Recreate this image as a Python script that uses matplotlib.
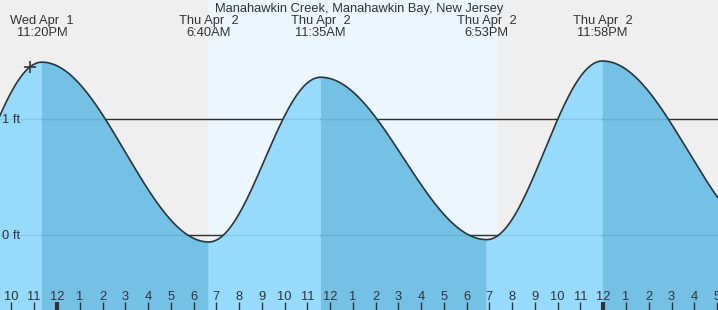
import numpy as np
import matplotlib
matplotlib.use("Agg")
import matplotlib.pyplot as plt
from matplotlib.transforms import blended_transform_factory, offset_copy

plt.rcParams['font.family'] = ['Liberation Sans', 'DejaVu Sans']

# ---------------- data ----------------
title = "Manahawkin Creek, Manahawkin Bay, New Jersey"
# tide extremes shown on the chart (hours relative to midnight Thu Apr 2)
event_days = ["Wed Apr  1", "Thu Apr  2", "Thu Apr  2", "Thu Apr  2", "Thu Apr  2"]
event_times = ["11:20PM", "6:40AM", "11:35AM", "6:53PM", "11:58PM"]
event_day_offset = [-1, 0, 0, 0, 0]
event_heights = [1.49, -0.06, 1.36, -0.04, 1.50]
# extremes just outside the visible window (estimated)
prev_low = ("6:20PM", -1, -0.05)
next_low = ("7:29AM", 1, -0.05)
# current-time marker
now_time = ("10:49PM", -1)
# daylight
sunrise = "6:38AM"
sunset = "7:20PM"
# hour ticks
tick_hours = list(range(-2, 30))
tick_labels = ["10", "11", "12", "1", "2", "3", "4", "5", "6", "7", "8", "9", "10", "11",
               "12", "1", "2", "3", "4", "5", "6", "7", "8", "9", "10", "11",
               "12", "1", "2", "3", "4", "5"]
midnight_hours = [0, 24]
level_lines = [0, 1]
level_labels = ["0 ft", "1 ft"]


def to_hours(t, day=0):
    hm, ap = t[:-2], t[-2:]
    h, m = map(int, hm.split(":"))
    h = h % 12 + (12 if ap == "PM" else 0)
    return day * 24 + h + m / 60.0


ext_t = [to_hours(prev_low[0], prev_low[1])] + \
        [to_hours(t, d) for t, d in zip(event_times, event_day_offset)] + \
        [to_hours(next_low[0], next_low[1])]
ext_h = [prev_low[2]] + event_heights + [next_low[2]]


def tide(t):
    t = np.asarray(t, float)
    out = np.zeros_like(t)
    for i in range(len(ext_t) - 1):
        t0, t1 = ext_t[i], ext_t[i + 1]
        h0, h1 = ext_h[i], ext_h[i + 1]
        m = (t >= t0) & (t <= t1)
        f = (1 - np.cos(np.pi * (t[m] - t0) / (t1 - t0))) / 2
        out[m] = h0 + (h1 - h0) * f
    return out


# ---------------- figure ----------------
W, H = 718, 310
fig = plt.figure(figsize=(W / 100, H / 100), dpi=100)
ax = fig.add_axes([0, 0, 1, 1])
px_per_h = 22.76
mid_px = 57
xmin = -mid_px / px_per_h
xmax = (W - mid_px) / px_per_h
px_per_ft = 116
zero_px = 235
ymax = zero_px / px_per_ft
ymin = -(H - zero_px) / px_per_ft
ax.set_xlim(xmin, xmax)
ax.set_ylim(ymin, ymax)
ax.set_facecolor("#efefef")
fig.patch.set_facecolor("#efefef")
for s in ax.spines.values():
    s.set_visible(False)
ax.set_axisbelow(False)

TXT = "#333333"
FS = 9.3

# daylight band
ax.axvspan(to_hours(sunrise), to_hours(sunset), color="#ebf6fe", zorder=0, lw=0)

# level lines (under the fill)
for lv in level_lines:
    ax.axhline(lv, color="#333333", lw=1, zorder=1)

# tide fill, colour by rising/falling
light = "#96dbfc"
dark = "#73c1e5"
for i in range(len(ext_t) - 1):
    t0, t1 = ext_t[i], ext_t[i + 1]
    a, b = max(t0, xmin - 0.1), min(t1, xmax + 0.1)
    if a >= b:
        continue
    tt = np.linspace(a, b, 200)
    col = light if ext_h[i + 1] > ext_h[i] else dark
    ax.fill_between(tt, ymin - 1, tide(tt), color=col, lw=0, zorder=2)

# faint level lines over the fill
for lv in level_lines:
    ax.axhline(lv, color="#000000", lw=1, alpha=0.08, zorder=3)

# curve
tt = np.linspace(xmin - 0.1, xmax + 0.1, 1500)
ax.plot(tt, tide(tt), color="#333333", lw=1.2, zorder=4)

# now marker
nt = to_hours(*now_time)
ax.plot([nt], tide([nt]), marker="+", ms=8, mew=1.2, color="#333333", zorder=5)

# level labels (baseline ~4.5px below the line)
lab_tr = offset_copy(ax.transData, fig=fig, x=0, y=-3.2, units="points")
for lv, lab in zip(level_lines, level_labels):
    ax.text(xmin + 2.5 / px_per_h, lv, lab, fontsize=FS, color=TXT,
            va="baseline", ha="left", zorder=6, transform=lab_tr)

# ticks
major = [h for h in tick_hours if h not in midnight_hours]
ax.set_xticks(major)
ax.set_xticks(midnight_hours, minor=True)
ax.tick_params(axis="x", which="major", direction="in", length=6, width=1,
               color="#333333", labelbottom=False)
ax.tick_params(axis="x", which="minor", direction="in", length=6, width=3,
               color="#333333", labelbottom=False)
ax.set_yticks([])
for t in ax.xaxis.get_major_ticks() + ax.xaxis.get_minor_ticks():
    t.tick1line.set_zorder(6)
trans = blended_transform_factory(ax.transData, ax.transAxes)
for h, lab in zip(tick_hours, tick_labels):
    ax.text(h, 10 / H, lab, transform=trans, ha="center", va="baseline",
            fontsize=FS, color=TXT, zorder=6)

# event labels
for t, d, day in zip(event_times, event_day_offset, event_days):
    x = to_hours(t, d)
    ax.text(x, 1 - 24 / H, day, transform=trans, ha="center", va="baseline",
            fontsize=FS, color=TXT, zorder=6)
    ax.text(x, 1 - 36.5 / H, t, transform=trans, ha="center", va="baseline",
            fontsize=FS, color=TXT, zorder=6)

ax.text(0.5, 1 - 12 / H, title, transform=ax.transAxes, ha="center",
        va="baseline", fontsize=FS, color=TXT, zorder=6)

fig.savefig("out.png", dpi=100, facecolor=fig.get_facecolor())
